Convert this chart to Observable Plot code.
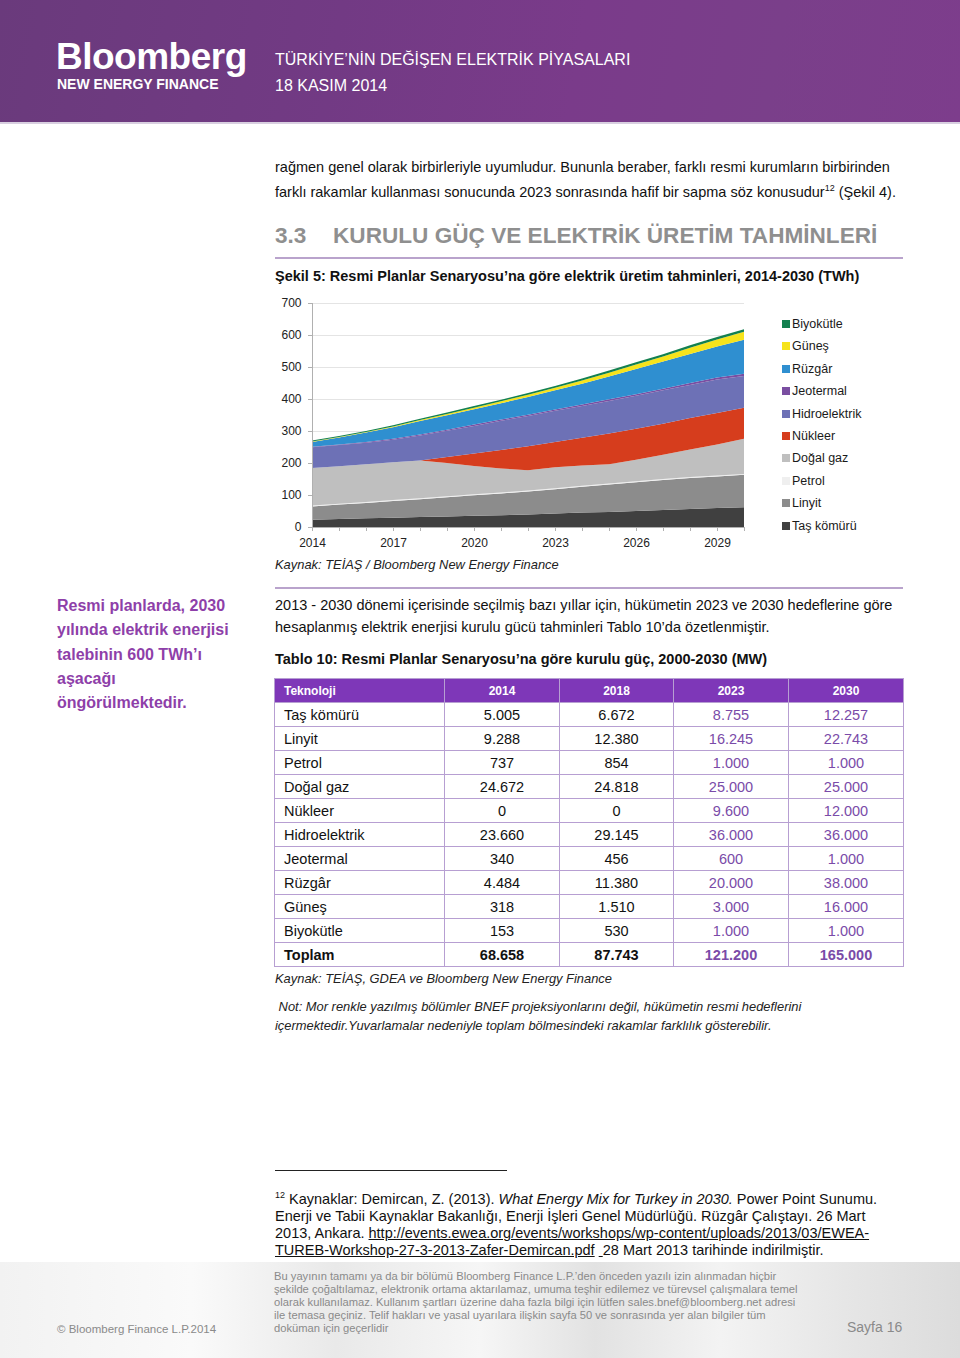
<!DOCTYPE html>
<html>
<head>
<meta charset="utf-8">
<script src="https://cdn.jsdelivr.net/npm/d3@7"></script>
<script src="https://cdn.jsdelivr.net/npm/@observablehq/plot@0.6"></script>
<style>
  html, body { margin:0; padding:0; background:#fff; }
  #page { position:relative; width:960px; height:1358px; overflow:hidden; font-family:"Liberation Sans", Arial, sans-serif; color:#111; }
  .abs { position:absolute; white-space:nowrap; }
  #header { position:absolute; left:0; top:0; width:960px; height:122px;
    background: linear-gradient(100deg, #6a3a7c 0%, #723a84 35%, #7a3b8a 60%, #7a3f8a 80%, #7d3d8c 100%);
    border-bottom:2px solid #d8cfe0; }
  #footer { position:absolute; left:0; top:1262px; width:960px; height:96px;
    background: linear-gradient(90deg, #f2f2f2 0%, #fafafa 20%, #e9e9e9 35%, #f6f6f6 50%, #e2e2e2 62%, #f3f3f3 75%, #e6e6e6 88%, #dcdcdc 100%); }
  table.t { position:absolute; left:274px; top:678px; width:629px; table-layout:fixed; border-collapse:collapse; font-size:14.5px; }
  table.t tr { height:24px; }
  table.t td, table.t th { border:1.5px solid #b79fd2; padding:0; overflow:hidden; white-space:nowrap; }
  table.t th { background:#7e37b8; color:#fff; font-size:12px; font-weight:bold; text-align:center; }
  table.t td { text-align:center; }
  table.t td.l, table.t th.l { text-align:left; padding-left:9px; }
  .pp { color:#7a4ba8; }
  .legend-item { position:absolute; left:782px; font-size:12.5px; color:#1a1a1a; white-space:nowrap; }
  .legend-item span.sw { display:inline-block; width:8px; height:8px; margin-right:2px; vertical-align:0px; }
</style>
</head>
<body>
<div id="page">
  <div id="header"></div>
  <div class="abs" style="left:56px;top:35px;font-size:37px;font-weight:bold;color:#fff;letter-spacing:-0.5px;line-height:44px;">Bloomberg</div>
  <div class="abs" style="left:57px;top:77px;font-size:14px;font-weight:bold;color:#fff;line-height:15px;">NEW ENERGY FINANCE</div>
  <div class="abs" style="left:275px;top:50px;font-size:16px;color:#fff;line-height:20px;">TÜRKİYE’NİN DEĞİŞEN ELEKTRİK PİYASALARI</div>
  <div class="abs" style="left:275px;top:76px;font-size:16px;color:#fff;line-height:20px;">18 KASIM 2014</div>

  <div class="abs" style="left:275px;top:157px;font-size:14.5px;line-height:21px;">rağmen genel olarak birbirleriyle uyumludur. Bununla beraber, farklı resmi kurumların birbirinden<br>farklı rakamlar kullanması sonucunda 2023 sonrasında hafif bir sapma söz konusudur<sup style="font-size:9px;">12</sup> (Şekil 4).</div>

  <div class="abs" style="left:275px;top:223px;font-size:22.6px;font-weight:bold;color:#8f8f8f;line-height:26px;">3.3</div>
  <div class="abs" style="left:333px;top:223px;font-size:22.6px;font-weight:bold;color:#8f8f8f;line-height:26px;">KURULU GÜÇ VE ELEKTRİK ÜRETİM TAHMİNLERİ</div>
  <div class="abs" style="left:275px;top:257px;width:628px;height:2px;background:#b9a3cc;"></div>

  <div class="abs" style="left:275px;top:266px;font-size:14.5px;font-weight:bold;line-height:20px;">Şekil 5: Resmi Planlar Senaryosu’na göre elektrik üretim tahminleri, 2014-2030 (TWh)</div>

  <div id="chart" class="abs" style="left:270px;top:290px;"></div>
  <div id="legend"></div>

  <div class="abs" style="left:275px;top:556px;font-size:12.9px;font-style:italic;line-height:18px;color:#222;">Kaynak: TEİAŞ / Bloomberg New Energy Finance</div>
  <div class="abs" style="left:275px;top:587px;width:628px;height:2px;background:#b9a3cc;"></div>

  <div class="abs" style="left:57px;top:594px;font-size:16px;font-weight:bold;line-height:24.3px;color:#8e3fa9;">Resmi planlarda, 2030<br>yılında elektrik enerjisi<br>talebinin 600 TWh’ı<br>aşacağı<br>öngörülmektedir.</div>

  <div class="abs" style="left:275px;top:595px;font-size:14.5px;line-height:21.5px;">2013 - 2030 dönemi içerisinde seçilmiş bazı yıllar için, hükümetin 2023 ve 2030 hedeflerine göre<br>hesaplanmış elektrik enerjisi kurulu gücü tahminleri Tablo 10’da özetlenmiştir.</div>
  <div class="abs" style="left:275px;top:649px;font-size:14.5px;font-weight:bold;line-height:20px;">Tablo 10: Resmi Planlar Senaryosu’na göre kurulu güç, 2000-2030 (MW)</div>

  <div id="tablewrap"></div>

  <div class="abs" style="left:275px;top:970px;font-size:12.9px;font-style:italic;line-height:18px;color:#222;">Kaynak: TEİAŞ, GDEA ve Bloomberg New Energy Finance</div>
  <div class="abs" style="left:275px;top:997px;font-size:12.9px;font-style:italic;line-height:19px;color:#222;">&nbsp;Not: Mor renkle yazılmış bölümler BNEF projeksiyonlarını değil, hükümetin resmi hedeflerini<br>içermektedir.Yuvarlamalar nedeniyle toplam bölmesindeki rakamlar farklılık gösterebilir.</div>

  <div class="abs" style="left:275px;top:1170px;width:232px;height:1px;background:#222;"></div>
  <div class="abs" style="left:275px;top:1187px;font-size:14.5px;line-height:17px;"><sup style="font-size:9px;">12</sup> Kaynaklar: Demircan, Z. (2013). <i>What Energy Mix for Turkey in 2030.</i> Power Point Sunumu.<br>Enerji ve Tabii Kaynaklar Bakanlığı, Enerji İşleri Genel Müdürlüğü. Rüzgâr Çalıştayı. 26 Mart<br>2013, Ankara. <u>http://events.ewea.org/events/workshops/wp-content/uploads/2013/03/EWEA-</u><br><u>TUREB-Workshop-27-3-2013-Zafer-Demircan.pdf</u> <u>&nbsp;</u>28 Mart 2013 tarihinde indirilmiştir.</div>

  <div id="footer"></div>
  <div class="abs" style="left:57px;top:1321px;font-size:11.5px;line-height:16px;color:#8a8a8a;">© Bloomberg Finance L.P.2014</div>
  <div class="abs" style="left:274px;top:1270px;font-size:11.2px;line-height:13px;color:#8a8a8a;">Bu yayının tamamı ya da bir bölümü Bloomberg Finance L.P.’den önceden yazılı izin alınmadan hiçbir<br>şekilde çoğaltılamaz, elektronik ortama aktarılamaz, umuma teşhir edilemez ve türevsel çalışmalara temel<br>olarak kullanılamaz. Kullanım şartları üzerine daha fazla bilgi için lütfen sales.bnef@bloomberg.net adresi<br>ile temasa geçiniz. Telif hakları ve yasal uyarılara ilişkin sayfa 50 ve sonrasında yer alan bilgiler tüm<br>doküman için geçerlidir</div>
  <div class="abs" style="left:847px;top:1318px;font-size:14px;line-height:18px;color:#8a8a8a;">Sayfa 16</div>
</div>

<script>
// ---------- Chart data (TWh) ----------
const years = [2014,2015,2016,2017,2018,2019,2020,2021,2022,2023,2024,2025,2026,2027,2028,2029,2030];
const labelYears = [2014,2017,2020,2023,2026,2029];
const yTicks = [0,100,200,300,400,500,600,700];

const tasKomuru     = [23,25,27,29,31,33,35,37,39,42,45,47,50,53,56,59,62];
const linyit        = [41,45,48,52,56,60,64,68,72,76,81,86,90,94,97,99,101];
const petrol        = [3,3,3,3,3,3,3,3,3,3,3,3,3,3,3,3,3];
const dogalGaz      = [117,117,118,118,118,104,89,75,63,66,63,60,67,76,86,97,110];
const nukleer       = [0,0,0,0,0,19,39,58,75,79,87,96,97,97,99,98,97];
const hidroelektrik = [65,66,67,71,78,82,86,91,95,97,99,102,103,104,103,105,99];
const jeotermal     = [2,2,3,3,3,3,4,4,4,4,5,5,5,5,6,6,7];
const ruzgar        = [15,22,29,36,42,45,48,51,55,60,65,71,79,85,91,97,106];
const gunes         = [1,1,2,2,3,4,5,6,7,8,10,12,14,16,19,22,25];
const biyokutle     = [3,3,3,4,4,5,5,5,6,6,6,7,7,7,8,8,8];

// stacking order bottom -> top
const techs  = ["Taş kömürü","Linyit","Petrol","Doğal gaz","Nükleer","Hidroelektrik","Jeotermal","Rüzgâr","Güneş","Biyokütle"];
const colors = ["#404040","#8c8c8c","#efefef","#bfbfbf","#d63d1d","#6d71b6","#7a4ea1","#2f8fd0","#f6e31c","#13804f"];
const seriesValues = [tasKomuru, linyit, petrol, dogalGaz, nukleer, hidroelektrik, jeotermal, ruzgar, gunes, biyokutle];

// ---------- Table data (MW) ----------
const tableHeader = ["Teknoloji","2014","2018","2023","2030"];
const tableRows = ["Taş kömürü","Linyit","Petrol","Doğal gaz","Nükleer","Hidroelektrik","Jeotermal","Rüzgâr","Güneş","Biyokütle","Toplam"];
const col2014 = ["5.005","9.288","737","24.672","0","23.660","340","4.484","318","153","68.658"];
const col2018 = ["6.672","12.380","854","24.818","0","29.145","456","11.380","1.510","530","87.743"];
const col2023 = ["8.755","16.245","1.000","25.000","9.600","36.000","600","20.000","3.000","1.000","121.200"];
const col2030 = ["12.257","22.743","1.000","25.000","12.000","36.000","1.000","38.000","16.000","1.000","165.000"];

const data = techs.flatMap((t, i) => years.map((yr, j) => ({year: yr, tech: t, value: seriesValues[i][j]})));

const chart = Plot.plot({
  width: 500,
  height: 260,
  marginLeft: 42,
  marginRight: 26,
  marginTop: 13,
  marginBottom: 23,
  x: {domain: [2014, 2030]},
  y: {domain: [0, 700]},
  color: {domain: techs, range: colors},
  style: {fontFamily: "'Liberation Sans', Arial, sans-serif", fontSize: "12px", color: "#222", background: "white"},
  marks: [
    Plot.gridY(yTicks.filter(d => d > 0), {stroke: "#e4e4e4", strokeOpacity: 1}),
    Plot.areaY(data, {x: "year", y: "value", z: "tech", fill: "tech", order: techs, curve: "linear"}),
    Plot.ruleX([2014], {stroke: "#b0b0b0"}),
    Plot.ruleY([0], {stroke: "#b0b0b0"}),
    Plot.axisY({ticks: yTicks, tickSize: 4, tickPadding: 7, tickFormat: d => String(d), label: null, stroke: "#b0b0b0", fill: "#222"}),
    Plot.axisX({ticks: years, tickSize: 4, tickPadding: 7, tickFormat: d => labelYears.includes(d) ? String(d) : "", label: null, stroke: "#b0b0b0", fill: "#222"})
  ]
});
document.getElementById("chart").appendChild(chart);

// legend (top -> bottom is reverse of stacking order)
const legend = document.getElementById("legend");
techs.slice().reverse().forEach((t, k) => {
  const i = techs.indexOf(t);
  const div = document.createElement("div");
  div.className = "legend-item";
  div.style.top = (317 + k * 22.4) + "px";
  div.innerHTML = `<span class="sw" style="background:${colors[i]}"></span>${t}`;
  legend.appendChild(div);
});

// table
const widths = [170, 115, 114, 115, 115];
let html = '<table class="t"><colgroup>' + widths.map(w => `<col style="width:${w}px">`).join("") + '</colgroup><tr>' +
  tableHeader.map((h, c) => `<th class="${c===0?'l':''}">${h}</th>`).join("") + '</tr>';
tableRows.forEach((r, i) => {
  const bold = r === "Toplam" ? "font-weight:bold;" : "";
  html += `<tr style="${bold}"><td class="l">${r}</td><td>${col2014[i]}</td><td>${col2018[i]}</td><td class="pp">${col2023[i]}</td><td class="pp">${col2030[i]}</td></tr>`;
});
html += '</table>';
document.getElementById("tablewrap").innerHTML = html;
</script>
</body>
</html>
